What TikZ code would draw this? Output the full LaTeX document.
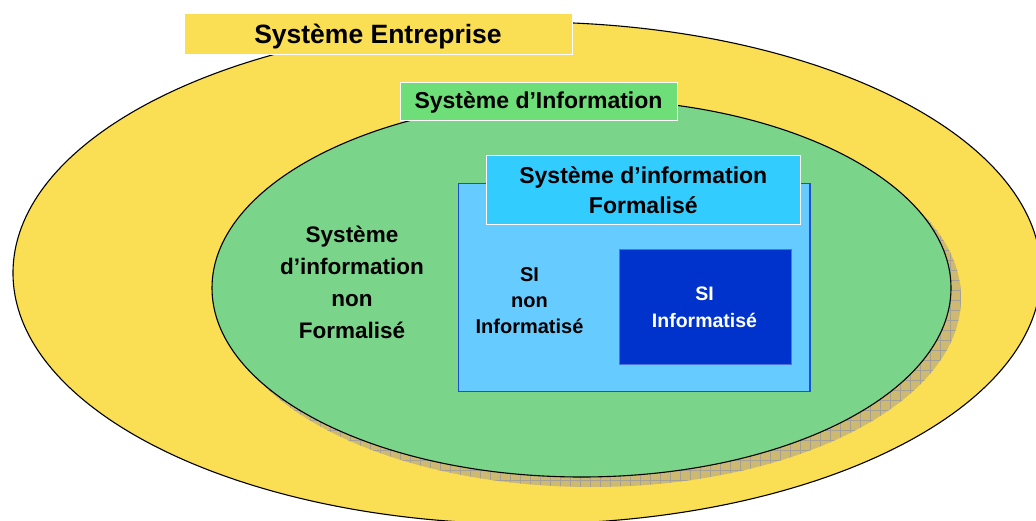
\documentclass[tikz,border=0pt]{standalone}
\usepackage{fontspec}
\setmainfont{Liberation Sans}
\definecolor{yellowE}{RGB}{250,222,84}
\definecolor{greenE}{RGB}{122,212,138}
\definecolor{greenL}{RGB}{110,222,120}
\definecolor{shadowC}{RGB}{205,186,112}
\definecolor{gridC}{RGB}{165,160,150}
\definecolor{lightB}{RGB}{102,204,255}
\definecolor{cyanL}{RGB}{51,204,255}
\definecolor{darkB}{RGB}{0,51,204}
\definecolor{borderB}{RGB}{30,80,210}
\begin{document}
\begin{tikzpicture}[x=1pt,y=-1pt,
  lbl/.style={draw=white,line width=0.8pt,inner sep=0pt},
  txt/.style={font=\bfseries,align=center,inner sep=0pt,anchor=base}]
\useasboundingbox (0,0) rectangle (1036,521);
\clip (0,0) rectangle (1036,521);
% outer ellipse
\draw[fill=yellowE,line width=1.1pt] (527,273) ellipse [x radius=514pt,y radius=251pt];
% shadow
\begin{scope}
  \clip (591.5,298) ellipse [x radius=369.5pt,y radius=189pt];
  \fill[shadowC] (200,90) rectangle (970,500);
  \draw[gridC,line width=0.6pt,step=10pt] (200,90) grid (970,500);
\end{scope}
% green ellipse
\draw[fill=greenE,line width=1.1pt] (581.5,288) ellipse [x radius=369.5pt,y radius=189pt];
% formalised box
\draw[fill=lightB,draw=borderB,line width=1.2pt] (458.3,183.3) rectangle (810,391.7);
\draw[fill=darkB,draw=borderB!80!white,line width=0.6pt] (619,249.3) rectangle (791,364);
% labels
\node[lbl,fill=yellowE,minimum width=388pt,minimum height=41pt] (entL) at (378,33.8) {};
\node[txt,font=\bfseries\fontsize{26.5}{30}\selectfont] (ent) at (378,43.3) {Système Entreprise};
\node[lbl,fill=greenL,minimum width=277pt,minimum height=38.4pt] (infL) at (538.5,101.5) {};
\node[txt,font=\bfseries\fontsize{23}{28}\selectfont] (inf) at (538.5,108.3) {Système d’Information};
\node[lbl,fill=cyanL,minimum width=314pt,minimum height=69.7pt] (forL) at (643,189.8) {};
\node[txt,font=\bfseries\fontsize{23}{30}\selectfont] (for) at (643.3,213.3) {Système d’information\\Formalisé};
\node[txt,font=\bfseries\fontsize{22.5}{32}\selectfont] (nonf) at (352,338) {Système\\d’information\\non\\Formalisé};
\node[txt,font=\bfseries\fontsize{20}{26}\selectfont] (sinon) at (529.5,333.3) {SI\\non\\Informatisé};
\node[txt,text=white,font=\bfseries\fontsize{19.5}{26.6}\selectfont] (si) at (704.5,327.3) {SI\\Informatisé};
\end{tikzpicture}
\end{document}
